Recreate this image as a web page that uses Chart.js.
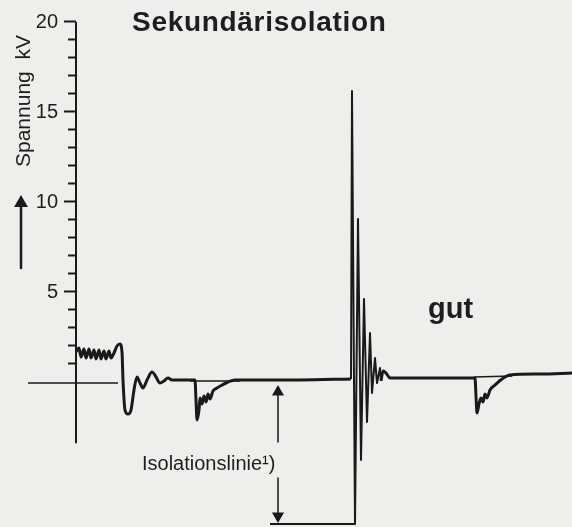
<!DOCTYPE html>
<html>
<head>
<meta charset="utf-8">
<script src="https://cdn.jsdelivr.net/npm/chart.js@4.4.1/dist/chart.umd.min.js"></script>
<style>
    html, body { margin: 0; padding: 0; background: #eeeeec; }
    #wrap { position: relative; width: 572px; height: 527px; overflow: hidden; }
    #wrap canvas { position: absolute; left: 0; top: 0; }
    .txt { position: absolute; font-family: 'Liberation Sans', Arial, Helvetica, sans-serif; color: #1e1e1e; line-height: 1; white-space: nowrap; }
</style>
</head>
<body>
<div id="wrap">
    <canvas id="zundChart" width="572" height="527"></canvas>
    <div class="txt" style="left:132px; top:8px; font-size:28px; font-weight:bold; letter-spacing:0.7px;">Sekundärisolation</div>
    <div class="txt" style="left:428px; top:294px; font-size:29px; font-weight:bold;">gut</div>
    <div class="txt" style="left:142px; top:453px; font-size:20px;">Isolationslinie¹)</div>
    <div class="txt" style="left:12px; top:167px; font-size:21px; transform-origin:0 0; transform:rotate(-90deg);">Spannung&nbsp; kV</div>
</div>
<script>
// Zeitachse (willkürliche Einheit) und Spannung in kV
var spurA_t  = [0, 0.3, 0.5, 0.8, 1.0, 1.3, 1.5, 1.8, 2.0, 2.3, 2.5, 2.8, 3.0, 3.3, 3.5, 3.8, 4.1, 4.4, 4.6, 4.7, 4.9, 5.2, 5.5, 5.8, 6.1, 6.4, 6.7, 7.1, 7.6, 8.0, 8.4, 8.8, 9.2, 9.6, 11.9, 12.0, 12.1, 12.3, 12.4, 12.6, 12.8, 13.0, 13.2, 13.4, 13.7, 14.1, 14.6, 15.2, 15.9, 22.4, 27.5];
var spurA_kV = [1.67, 1.89, 1.39, 1.83, 1.33, 1.83, 1.33, 1.78, 1.28, 1.78, 1.28, 1.72, 1.28, 1.72, 1.33, 1.61, 2.0, 2.11, 1.67, 0.11, -1.56, -1.78, -1.56, -0.44, 0.28, -0.06, -0.33, 0.11, 0.56, 0.28, -0.06, 0.06, 0.22, 0.11, 0.11, -1.0, -2.11, -1.56, -0.89, -1.22, -0.78, -1.11, -0.67, -0.94, -0.5, -0.33, -0.17, 0.0, 0.11, 0.11, 0.17];

// Zündspannungsnadel mit Ausschwingen
var nadel_t  = [27.5, 27.6, 27.9, 28.2, 28.5, 28.8, 29.1, 29.4, 29.6, 29.9, 30.1, 30.4, 30.5];
var nadel_kV = [0.17, 16.17, -7.89, 9.06, -4.33, 4.61, -2.22, 2.72, -0.61, 1.33, -0.06, 0.78, 0.06];

var spurB_t  = [30.5, 30.7, 31.0, 31.4, 35.4, 39.9, 40.0, 40.1, 40.3, 40.5, 40.7, 40.9, 41.1, 41.4, 41.9, 42.6, 43.4, 46.4, 49.6];
var spurB_kV = [0.06, 0.61, 0.5, 0.22, 0.22, 0.22, -0.78, -1.72, -1.22, -0.89, -1.11, -0.67, -0.89, -0.44, -0.17, 0.17, 0.39, 0.44, 0.5];

// dünne Nulllinie (Stücke)
var null_t  = [-4.8, 4.2, null, 11.4, 16.4, null, 39.8, 43.6];
var null_kV = [-0.06, -0.06, null, 0.06, 0.06, null, 0.28, 0.33];

// Isolationslinie: Pfeile und Fußlinie
var isoOben_t  = [20.2, 20.2];
var isoOben_kV = [-0.56, -3.33];
var isoUnten_t  = [20.2, 20.2];
var isoUnten_kV = [-5.33, -7.44];
var fuss_t  = [19.4, 27.9];
var fuss_kV = [-7.89, -7.89];

// Pfeil neben Achsentitel
var pfeil_t  = [-5.5, -5.5];
var pfeil_kV = [9.94, 6.33];

// Spannungsachse: Linie von -3,4 bis 20 kV
var achse_t  = [0, 0];
var achse_kV = [-3.4, 20];

var schwarz = '#1a1a1a';
var leer = 'rgba(0,0,0,0)';
var schrift = "'Liberation Sans', Arial, Helvetica, sans-serif";

function punkte(tt, kv) {
    var arr = [];
    for (var i = 0; i < tt.length; i++) {
        arr.push({ x: tt[i] === null ? (tt[i - 1] + 0.01) : tt[i], y: kv[i] });
    }
    return arr;
}

function linie(tt, kv, breite, extra) {
    var ds = {
        data: punkte(tt, kv),
        borderColor: schwarz,
        backgroundColor: schwarz,
        borderWidth: breite,
        pointRadius: 0,
        tension: 0,
        clip: false,
        borderJoinStyle: 'round',
        borderCapStyle: 'butt'
    };
    if (extra) {
        for (var k in extra) ds[k] = extra[k];
    }
    return ds;
}

function tickWert(c) {
    return c.tick ? Math.round(c.tick.value * 1000) / 1000 : 0;
}

// Achsen sollen den Plotbereich nicht verkleinern
function ohnePadding(scale) {
    scale.paddingTop = 0;
    scale.paddingBottom = 0;
    scale.paddingLeft = 0;
    scale.paddingRight = 0;
}

var ctx = document.getElementById('zundChart').getContext('2d');
var zundChart = new Chart(ctx, {
    type: 'line',
    data: {
        datasets: [
            linie(spurA_t, spurA_kV, 3, { cubicInterpolationMode: 'monotone' }),
            linie(nadel_t, nadel_kV, 2),
            linie(spurB_t, spurB_kV, 3, { cubicInterpolationMode: 'monotone' }),
            linie(null_t, null_kV, 1.5),
            linie(fuss_t, fuss_kV, 2),
            linie(achse_t, achse_kV, 2),
            linie(isoOben_t, isoOben_kV, 1.5, { pointRadius: [7, 0], pointStyle: 'triangle', pointBorderWidth: 0, pointBackgroundColor: schwarz }),
            linie(isoUnten_t, isoUnten_kV, 1.5, { pointRadius: [0, 7], pointStyle: 'triangle', pointRotation: [0, 180], pointBorderWidth: 0, pointBackgroundColor: schwarz }),
            linie(pfeil_t, pfeil_kV, 2.5, { pointRadius: [8, 0], pointStyle: 'triangle', pointBorderWidth: 0, pointBackgroundColor: schwarz })
        ]
    },
    options: {
        responsive: false,
        animation: false,
        devicePixelRatio: 1,
        layout: { padding: 0, autoPadding: false },
        plugins: {
            legend: { display: false },
            tooltip: { enabled: false },
            title: { display: false }
        },
        scales: {
            x: {
                type: 'linear',
                display: false,
                min: -7.6,
                max: 49.6
            },
            // Hauptstriche alle 5 kV
            y: {
                type: 'linear',
                position: { x: 0 },
                min: -8.056,
                max: 21.222,
                afterFit: ohnePadding,
                ticks: { stepSize: 5, display: false, includeBounds: false },
                grid: {
                    drawOnChartArea: false,
                    drawTicks: true,
                    tickLength: 12,
                    tickWidth: 2,
                    tickColor: function (c) {
                        var v = tickWert(c);
                        return (v > 0 && v <= 20) ? schwarz : leer;
                    }
                },
                border: { display: false }
            },
            // Zwischenstriche alle 1 kV
            yMinor: {
                type: 'linear',
                axis: 'y',
                position: { x: 0 },
                min: -8.056,
                max: 21.222,
                afterFit: ohnePadding,
                ticks: { stepSize: 1, display: false, includeBounds: false },
                grid: {
                    drawOnChartArea: false,
                    drawTicks: true,
                    tickLength: 8,
                    tickWidth: 2,
                    tickColor: function (c) {
                        var v = tickWert(c);
                        return (v > 0 && v < 20 && v % 5 !== 0) ? schwarz : leer;
                    }
                },
                border: { display: false }
            },
            // Beschriftung 5 ... 20
            yLabel: {
                type: 'linear',
                axis: 'y',
                position: { x: -1.8 },
                min: -8.056,
                max: 21.222,
                afterFit: ohnePadding,
                ticks: {
                    stepSize: 5,
                    padding: 0,
                    includeBounds: false,
                    color: '#1e1e1e',
                    font: { family: schrift, size: 20 },
                    callback: function (v) { return (v > 0 && v <= 20) ? v : ''; }
                },
                grid: { drawOnChartArea: false, drawTicks: false },
                border: { display: false }
            }
        }
    }
});
</script>
</body>
</html>
